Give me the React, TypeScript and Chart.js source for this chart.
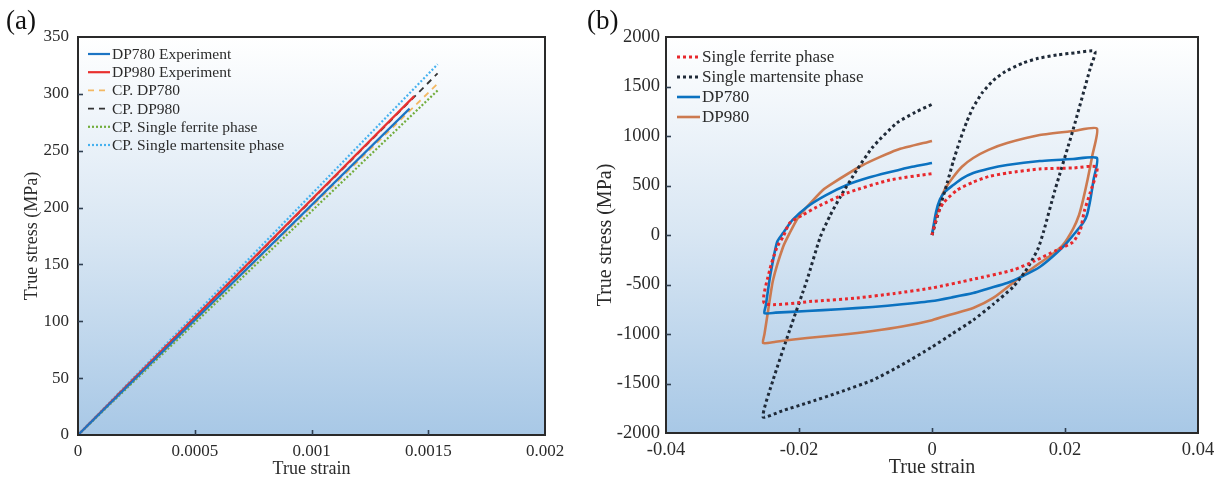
import React, { useEffect, useRef } from 'react';
import { Chart, registerables } from 'chart.js';

Chart.register(...registerables);

// ---------- Panel (a) data ----------
const xTicksA = [0, 0.0005, 0.001, 0.0015, 0.002];
const xTickLabelsA = ['0', '0.0005', '0.001', '0.0015', '0.002'];
const yTicksA = [0, 50, 100, 150, 200, 250, 300, 350];

const dp780ExpStrain = [0, 0.00142];
const dp780ExpStress = [0, 287];
const dp980ExpStrain = [0, 0.00144];
const dp980ExpStress = [0, 298];
const cpDp780Strain = [0, 0.00155];
const cpDp780Stress = [0, 311];
const cpDp980Strain = [0, 0.00154];
const cpDp980Stress = [0, 318];
const cpFerriteStrain = [0, 0.00154];
const cpFerriteStress = [0, 303];
const cpMartStrain = [0, 0.00154];
const cpMartStress = [0, 326];

// ---------- Panel (b) data ----------
const xTicksB = [-0.04, -0.02, 0, 0.02, 0.04];
const xTickLabelsB = ['-0.04', '-0.02', '0', '0.02', '0.04'];
const yTicksB = [-2000, -1500, -1000, -500, 0, 500, 1000, 1500, 2000];

const ferriteStrain = [0, 0.0008, 0.0017, 0.0038, 0.0062, 0.0085, 0.0113, 0.0162, 0.0212, 0.0248, 0.0238, 0.0229, 0.0223, 0.0212, 0.0188, 0.0155, 0.0122, 0.006, 0, -0.0056, -0.0113, -0.018, -0.0252, -0.0244, -0.0233, -0.0224, -0.0214, -0.0195, -0.0173, -0.0128, -0.0063, 0];
const ferriteStress = [0, 200, 323, 455, 535, 590, 626, 667, 677, 685, 430, 240, 50, -71, -151, -260, -353, -450, -535, -590, -636, -670, -690, -353, -121, -20, 121, 200, 283, 424, 556, 620];

const martStrain = [0, 0.0012, 0.0023, 0.0032, 0.0042, 0.0052, 0.0062, 0.0076, 0.0092, 0.011, 0.0137, 0.016, 0.0188, 0.0215, 0.0245, 0.0238, 0.0212, 0.0185, 0.0168, 0.016, 0.015, 0.014, 0.0122, 0.0092, 0.0062, 0.003, 0, -0.0045, -0.0089, -0.014, -0.0188, -0.0225, -0.0254, -0.0239, -0.0214, -0.0188, -0.0168, -0.0153, -0.0138, -0.0113, -0.0089, -0.0053, -0.0025, 0];
const martStress = [0, 280, 530, 745, 955, 1140, 1290, 1440, 1560, 1650, 1737, 1785, 1818, 1840, 1855, 1686, 1060, 455, 40, -130, -260, -370, -525, -700, -859, -1000, -1131, -1310, -1465, -1590, -1697, -1775, -1838, -1465, -960, -455, -20, 200, 384, 657, 889, 1131, 1240, 1320];

const dp780Strain = [0, 0.0006, 0.0012, 0.002, 0.0032, 0.0045, 0.0062, 0.0085, 0.0113, 0.0162, 0.0212, 0.0248, 0.0243, 0.0238, 0.0233, 0.0228, 0.0215, 0.02, 0.0182, 0.0162, 0.0138, 0.0113, 0.0085, 0.0062, 0.003, 0, -0.0045, -0.0089, -0.014, -0.0188, -0.0235, -0.0252, -0.025, -0.0243, -0.0233, -0.0224, -0.021, -0.0188, -0.016, -0.0128, -0.0095, -0.0063, -0.003, 0];
const dp780Stress = [0, 230, 360, 440, 505, 570, 626, 670, 707, 747, 768, 778, 560, 354, 200, 130, 20, -100, -215, -323, -410, -485, -540, -586, -630, -667, -700, -727, -750, -768, -784, -790, -714, -400, -71, 20, 150, 283, 400, 505, 580, 636, 690, 727];

const dp980Strain = [0, 0.0005, 0.0012, 0.002, 0.0032, 0.0045, 0.0062, 0.0085, 0.0113, 0.0162, 0.0212, 0.0248, 0.0241, 0.0234, 0.0227, 0.0221, 0.0212, 0.0197, 0.018, 0.0162, 0.013, 0.0092, 0.0062, 0.003, 0, -0.0045, -0.0089, -0.014, -0.0188, -0.0235, -0.0254, -0.0252, -0.0247, -0.0239, -0.0224, -0.0214, -0.0202, -0.0188, -0.0164, -0.0149, -0.0104, -0.0053, 0];
const dp980Stress = [0, 150, 340, 470, 586, 690, 778, 860, 929, 1010, 1050, 1075, 800, 560, 350, 200, 60, -100, -200, -283, -440, -636, -737, -800, -860, -925, -970, -1010, -1040, -1078, -1091, -1004, -788, -455, -121, 20, 170, 283, 455, 525, 707, 859, 950];

const SERIF = "'Liberation Serif', 'Times New Roman', serif";
const TEXT = '#2b2b2b';

const pts = (xs: number[], ys: number[]) => xs.map((x, i) => ({ x, y: ys[i] }));

const bgPlugin = {
  id: 'bgGrad',
  beforeDatasetsDraw(chart: any) {
    const { ctx, chartArea: a } = chart;
    const g = ctx.createLinearGradient(0, a.top, 0, a.bottom);
    g.addColorStop(0, '#ffffff');
    g.addColorStop(0.5, '#d8e6f3');
    g.addColorStop(1, '#a8c8e6');
    ctx.save();
    ctx.fillStyle = g;
    ctx.fillRect(a.left, a.top, a.right - a.left, a.bottom - a.top);
    ctx.restore();
  },
};

const framePlugin = {
  id: 'frame',
  afterDatasetsDraw(chart: any) {
    const { ctx, chartArea: a, scales } = chart;
    ctx.save();
    ctx.strokeStyle = '#2a2a2a';
    ctx.lineWidth = 2;
    ctx.strokeRect(a.left, a.top, a.right - a.left, a.bottom - a.top);
    ctx.lineWidth = 1.6;
    ctx.strokeStyle = '#2f3f50';
    const tl = 5;
    const xt = scales.x.ticks;
    for (let i = 1; i < xt.length - 1; i++) {
      const px = Math.round(scales.x.getPixelForValue(xt[i].value)) + 0.5;
      ctx.beginPath();
      ctx.moveTo(px, a.bottom);
      ctx.lineTo(px, a.bottom - tl);
      ctx.stroke();
    }
    const yt = scales.y.ticks;
    for (let i = 1; i < yt.length - 1; i++) {
      const py = Math.round(scales.y.getPixelForValue(yt[i].value)) + 0.5;
      ctx.beginPath();
      ctx.moveTo(a.left, py);
      ctx.lineTo(a.left + tl, py);
      ctx.stroke();
    }
    ctx.restore();
  },
};

const legendPlugin = {
  id: 'inLegend',
  afterDatasetsDraw(chart: any, _args: any, opts: any) {
    if (!opts || opts.x === undefined) return;
    const { ctx } = chart;
    ctx.save();
    ctx.font = `${opts.size}px ${SERIF}`;
    ctx.textBaseline = 'middle';
    ctx.fillStyle = TEXT;
    chart.data.datasets.forEach((ds: any, i: number) => {
      const y = opts.y + i * opts.dy;
      ctx.save();
      ctx.strokeStyle = ds.borderColor;
      ctx.lineWidth = ds.borderWidth;
      ctx.setLineDash(ds.borderDash || []);
      ctx.beginPath();
      ctx.moveTo(opts.x, y);
      ctx.lineTo(opts.x + opts.len, y);
      ctx.stroke();
      ctx.restore();
      ctx.fillText(ds.label, opts.x + opts.len + 2, y + 1);
    });
    ctx.restore();
  },
};

const panelLabelPlugin = {
  id: 'panelLabel',
  afterDraw(chart: any, _args: any, opts: any) {
    if (!opts || !opts.text) return;
    const { ctx } = chart;
    ctx.save();
    ctx.font = `${opts.size}px ${SERIF}`;
    ctx.fillStyle = '#111';
    ctx.textBaseline = 'middle';
    ctx.textAlign = 'left';
    ctx.fillText(opts.text, opts.x, opts.y);
    ctx.restore();
  },
};

function makeConfig(p: any) {
  return {
    type: 'scatter',
    data: { datasets: p.datasets },
    plugins: [bgPlugin, framePlugin, legendPlugin, panelLabelPlugin],
    options: {
      animation: false,
      responsive: false,
      devicePixelRatio: 1,
      layout: { padding: { left: 0, right: p.padRight, top: 37, bottom: 0 } },
      elements: { point: { radius: 0, hoverRadius: 0 }, line: { tension: p.tension } },
      plugins: {
        legend: { display: false },
        tooltip: { enabled: false },
        inLegend: p.legend,
        panelLabel: p.label,
      },
      scales: {
        x: {
          type: 'linear',
          min: p.xTicks[0],
          max: p.xTicks[p.xTicks.length - 1],
          afterBuildTicks: (s: any) => { s.ticks = p.xTicks.map((v: number) => ({ value: v })); },
          afterFit: (s: any) => { s.height = p.xHeight; },
          grid: { display: false, drawTicks: false },
          border: { display: false },
          ticks: {
            autoSkip: false,
            maxRotation: 0,
            padding: 6,
            color: TEXT,
            font: { family: SERIF, size: p.tickSize },
            callback: (_v: any, i: number) => p.xLabels[i],
          },
          title: {
            display: true,
            text: 'True strain',
            color: TEXT,
            font: { family: SERIF, size: p.titleSize },
            padding: { top: 0, bottom: 6 },
          },
        },
        y: {
          type: 'linear',
          min: p.yTicks[0],
          max: p.yTicks[p.yTicks.length - 1],
          afterBuildTicks: (s: any) => { s.ticks = p.yTicks.map((v: number) => ({ value: v })); },
          afterFit: (s: any) => { s.width = p.yWidth; },
          grid: { display: false, drawTicks: false },
          border: { display: false },
          ticks: {
            autoSkip: false,
            padding: p.yTickPad,
            color: TEXT,
            font: { family: SERIF, size: p.tickSize },
            callback: (v: any) => String(v),
          },
          title: {
            display: true,
            text: 'True stress (MPa)',
            color: TEXT,
            font: { family: SERIF, size: p.titleSize },
            padding: { top: p.yTitlePad, bottom: 0 },
          },
        },
      },
    },
  };
}

function ChartCanvas({ config, left, width }: { config: any; left: number; width: number }) {
  const ref = useRef<HTMLCanvasElement | null>(null);
  useEffect(() => {
    if (!ref.current) return;
    const c = new Chart(ref.current, config);
    return () => c.destroy();
  }, []);
  return (
    <canvas
      ref={ref}
      width={width}
      height={486}
      style={{ position: 'absolute', left, top: 0, width, height: 486, display: 'block' }}
    />
  );
}

export default function App() {
  const dsA = [
    { label: 'DP780 Experiment', data: pts(dp780ExpStrain, dp780ExpStress), borderColor: '#1c74c4', borderWidth: 2.2, showLine: true },
    { label: 'DP980 Experiment', data: pts(dp980ExpStrain, dp980ExpStress), borderColor: '#e8302e', borderWidth: 2.2, showLine: true },
    { label: 'CP. DP780', data: pts(cpDp780Strain, cpDp780Stress), borderColor: '#f3b862', borderWidth: 1.8, borderDash: [6, 5], showLine: true },
    { label: 'CP. DP980', data: pts(cpDp980Strain, cpDp980Stress), borderColor: '#333333', borderWidth: 1.8, borderDash: [6, 5], showLine: true },
    { label: 'CP. Single ferrite phase', data: pts(cpFerriteStrain, cpFerriteStress), borderColor: '#72ad3c', borderWidth: 2.2, borderDash: [2, 2], showLine: true },
    { label: 'CP. Single martensite phase', data: pts(cpMartStrain, cpMartStress), borderColor: '#46b1ef', borderWidth: 2.2, borderDash: [2, 2], showLine: true },
  ];
  const dsB = [
    { label: 'Single ferrite phase', data: pts(ferriteStrain, ferriteStress), borderColor: '#e8282c', borderWidth: 3, borderDash: [3, 3], showLine: true },
    { label: 'Single martensite phase', data: pts(martStrain, martStress), borderColor: '#1f2a38', borderWidth: 3, borderDash: [3, 3], showLine: true },
    { label: 'DP780', data: pts(dp780Strain, dp780Stress), borderColor: '#0b72c0', borderWidth: 2.6, showLine: true },
    { label: 'DP980', data: pts(dp980Strain, dp980Stress), borderColor: '#cc7a50', borderWidth: 2.6, showLine: true },
  ];

  const cfgA = makeConfig({
    datasets: dsA,
    tension: 0,
    padRight: 35,
    xTicks: xTicksA,
    xLabels: xTickLabelsA,
    yTicks: yTicksA,
    xHeight: 51,
    yWidth: 78,
    yTickPad: 9,
    yTitlePad: 21,
    tickSize: 17,
    titleSize: 18,
    legend: { x: 88, y: 54, dy: 18.2, len: 22, size: 15.5 },
    label: { text: '(a)', x: 6, y: 22, size: 27 },
  });
  const cfgB = makeConfig({
    datasets: dsB,
    tension: 0.2,
    padRight: 30,
    xTicks: xTicksB,
    xLabels: xTickLabelsB,
    yTicks: yTicksB,
    xHeight: 53,
    yWidth: 86,
    yTickPad: 6,
    yTitlePad: 14,
    tickSize: 18.5,
    titleSize: 20,
    legend: { x: 97, y: 57, dy: 20, len: 23, size: 17 },
    label: { text: '(b)', x: 7, y: 22, size: 27 },
  });

  return (
    <div style={{ position: 'absolute', left: 0, top: 0, width: 1228, height: 486, background: '#ffffff', overflow: 'hidden' }}>
      <ChartCanvas config={cfgA} left={0} width={580} />
      <ChartCanvas config={cfgB} left={580} width={648} />
    </div>
  );
}
